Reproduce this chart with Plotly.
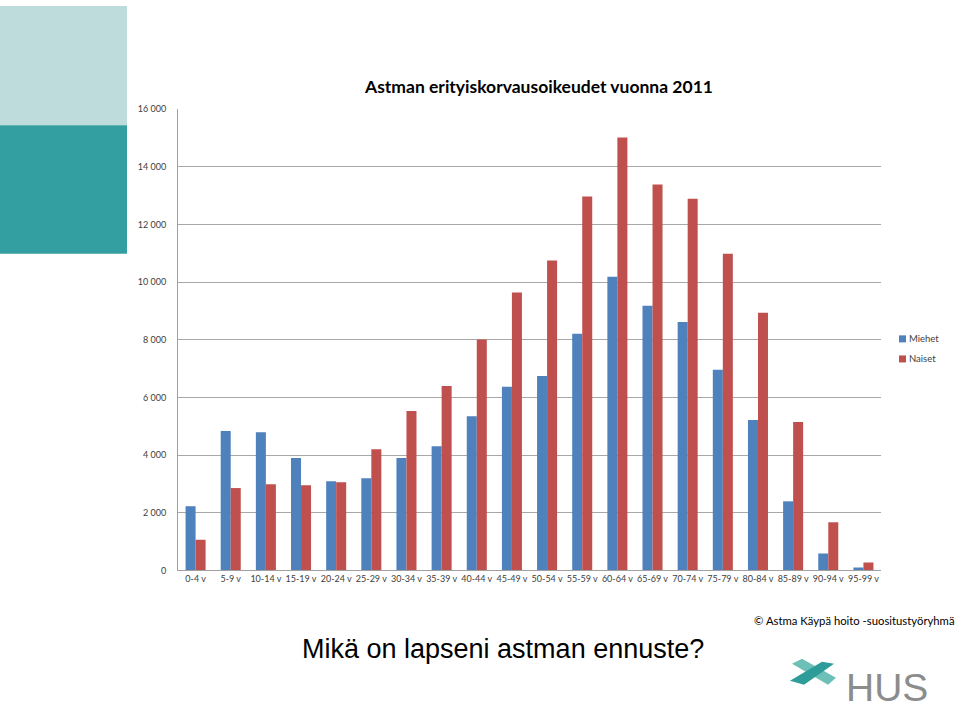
import plotly.graph_objects as go

categories = ["0-4 v", "5-9 v", "10-14 v", "15-19 v", "20-24 v", "25-29 v", "30-34 v",
              "35-39 v", "40-44 v", "45-49 v", "50-54 v", "55-59 v", "60-64 v", "65-69 v",
              "70-74 v", "75-79 v", "80-84 v", "85-89 v", "90-94 v", "95-99 v"]
miehet = [2230, 4840, 4800, 3900, 3100, 3200, 3900, 4310, 5350, 6370, 6750, 8210,
          10190, 9180, 8620, 6960, 5220, 2400, 590, 100]
naiset = [1070, 2860, 2990, 2960, 3060, 4210, 5530, 6400, 8010, 9640, 10750, 12970,
          15020, 13390, 12900, 10990, 8940, 5150, 1670, 280]
series_names = ["Miehet", "Naiset"]
series_colors = ["#4F81BD", "#C0504D"]
ytick_vals = [0, 2000, 4000, 6000, 8000, 10000, 12000, 14000, 16000]
ytick_text = ["0", "2 000", "4 000", "6 000", "8 000", "10 000", "12 000", "14 000", "16 000"]

W, H = 960, 715
FONT = "Lato"

def px(x):
    return x / W

def py(y):
    # compensate the vertical offset/scale seen in the rendered picture
    yc = max(0.0, (y - 6) / 0.982)
    return 1 - yc / H

fig = go.Figure()
for name, vals, col in zip(series_names, [miehet, naiset], series_colors):
    fig.add_trace(go.Bar(x=categories, y=vals, name=name, marker_color=col,
                         marker_line_width=0))

fig.update_layout(
    width=W, height=H,
    margin=dict(l=0, r=0, t=0, b=0),
    paper_bgcolor="white", plot_bgcolor="white",
    barmode="group", bargap=0.43, bargroupgap=0,
    showlegend=False,
    xaxis=dict(domain=[px(178), px(881)], showgrid=False, showline=True,
               linecolor="#A0A0A0", linewidth=1, ticks="",
               tickfont=dict(family=FONT, size=9, color="#404040"),
               tickangle=0),
    yaxis=dict(domain=[py(569), py(109)], range=[0, 16000],
               tickvals=ytick_vals, ticktext=ytick_text,
               showgrid=True, gridcolor="#A8A8A8", gridwidth=1,
               showline=True, linecolor="#A0A0A0", linewidth=1,
               zeroline=False, ticks="", ticklabelstandoff=9,
               tickfont=dict(family=FONT, size=9, color="#404040")),
    font=dict(family=FONT),
)

shapes = [
    dict(type="rect", xref="paper", yref="paper", x0=0, x1=px(127), y0=py(125), y1=1,
         fillcolor="#BFDCDC", line=dict(width=0), layer="below"),
    dict(type="rect", xref="paper", yref="paper", x0=0, x1=px(127), y0=py(253), y1=py(125),
         fillcolor="#349FA0", line=dict(width=0), layer="below"),
]
# manual legend squares
for i, col in enumerate(series_colors):
    yc = 338 + 20 * i
    shapes.append(dict(type="rect", xref="paper", yref="paper",
                       x0=px(899), x1=px(906), y0=py(yc + 3.5), y1=py(yc - 3.5),
                       fillcolor=col, line=dict(width=0)))

def P(x, y):
    return f"{px(x):.5f},{py(y):.5f}"
# stylised cross of the HUS logo
arm1 = "M " + " L ".join([P(792, 662), P(802, 657), P(836, 676), P(828, 683)]) + " Z"
arm2 = "M " + " L ".join([P(790, 679), P(822, 660), P(834, 662), P(804, 683)]) + " Z"
shapes.append(dict(type="path", xref="paper", yref="paper", path=arm1,
                   fillcolor="#6CC0B8", line=dict(width=0)))
shapes.append(dict(type="path", xref="paper", yref="paper", path=arm2,
                   fillcolor="#2E9C98", line=dict(width=0)))
fig.update_layout(shapes=shapes)

for i, name in enumerate(series_names):
    fig.add_annotation(text=name, xref="paper", yref="paper", x=px(907), y=py(338 + 20 * i),
                       xanchor="left", yanchor="middle", showarrow=False,
                       font=dict(family=FONT, size=9.5, color="#404040"))

fig.add_annotation(text="<b>Astman erityiskorvausoikeudet vuonna 2011</b>",
                   xref="paper", yref="paper", x=px(538), y=py(86),
                   xanchor="center", yanchor="middle", showarrow=False,
                   font=dict(family=FONT, size=17.5, color="#000000"))
fig.add_annotation(text="© Astma Käypä hoito -suositustyöryhmä",
                   xref="paper", yref="paper", x=px(957), y=py(619),
                   xanchor="right", yanchor="middle", showarrow=False,
                   font=dict(family=FONT, size=11.3, color="#000000"))
fig.add_annotation(text="Mikä on lapseni astman ennuste?",
                   xref="paper", yref="paper", x=px(503), y=py(647),
                   xanchor="center", yanchor="middle", showarrow=False,
                   font=dict(family="Liberation Sans Narrow, Liberation Sans", size=27, color="#000000"))
fig.add_annotation(text="HUS",
                   xref="paper", yref="paper", x=px(887), y=0.002,
                   xanchor="center", yanchor="bottom", showarrow=False,
                   borderpad=0, borderwidth=0,
                   font=dict(family="Liberation Sans", size=39, color="#8C8C8C"))

fig.write_html("out.html")
